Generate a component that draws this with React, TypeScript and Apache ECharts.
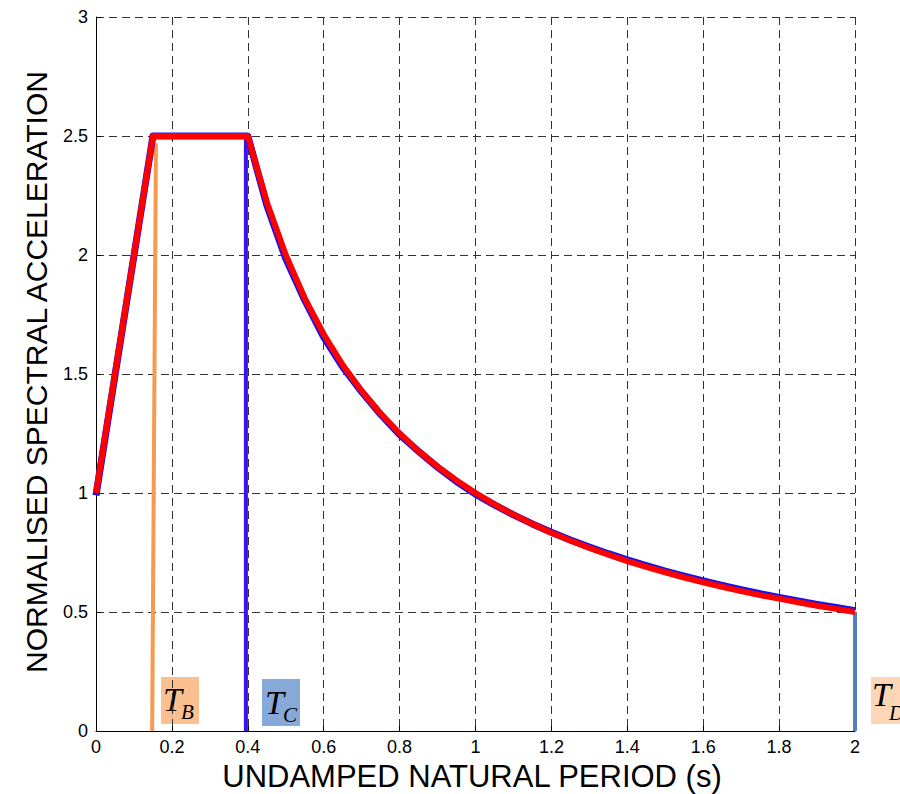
import React, { useEffect, useRef } from "react";
import * as echarts from "echarts";

// Periods (s)
const periods = [
  0, 0.15, 0.4, 0.45, 0.5, 0.55, 0.6, 0.65, 0.7, 0.75, 0.8, 0.85, 0.9, 0.95, 1.0,
  1.05, 1.1, 1.15, 1.2, 1.25, 1.3, 1.35, 1.4, 1.45, 1.5, 1.55, 1.6, 1.65, 1.7,
  1.75, 1.8, 1.85, 1.9, 1.95, 2.0,
];
// Design (red) normalised spectral acceleration
const redSa = [
  1.0, 2.5, 2.5, 2.222, 2.0, 1.818, 1.667, 1.538, 1.429, 1.333, 1.25, 1.176, 1.111,
  1.053, 1.0, 0.952, 0.909, 0.87, 0.833, 0.8, 0.769, 0.741, 0.714, 0.69, 0.667,
  0.645, 0.625, 0.606, 0.588, 0.571, 0.556, 0.541, 0.526, 0.513, 0.5,
];
// Computed (blue) normalised spectral acceleration
const blueSa = [
  0.99, 2.5, 2.5, 2.21, 1.985, 1.81, 1.655, 1.53, 1.425, 1.33, 1.245, 1.175, 1.108,
  1.048, 0.995, 0.95, 0.908, 0.87, 0.835, 0.803, 0.773, 0.745, 0.719, 0.695, 0.672,
  0.651, 0.631, 0.612, 0.594, 0.577, 0.561, 0.546, 0.532, 0.519, 0.505,
];
// Corner-period markers
const tbLine = [[0.148, 0], [0.158, 2.47]];
const tcLine = [[0.395, 0], [0.395, 2.5]];
const tdLine = [[2.0, 0], [2.0, 0.5]];

const xTitle = "UNDAMPED NATURAL PERIOD (s)";
const yTitle = "NORMALISED SPECTRAL ACCELERATION";

const SANS = "'Liberation Sans', Arial, sans-serif";
const SERIF = "'Liberation Serif', 'Times New Roman', serif";

function label(x: number, y: number, w: number, h: number, fill: string, sub: string, tx: number, ty: number, sx: number, sy: number) {
  return {
    type: "group",
    children: [
      { type: "rect", shape: { x, y, width: w, height: h }, style: { fill } },
      {
        type: "text",
        x: tx,
        y: ty,
        style: { text: "T", font: `italic 34px ${SERIF}`, fill: "#000", verticalAlign: "middle", align: "left" },
      },
      {
        type: "text",
        x: sx,
        y: sy,
        style: { text: sub, font: `italic 21px ${SERIF}`, fill: "#000", verticalAlign: "middle", align: "left" },
      },
    ],
  };
}

export default function App() {
  const ref = useRef<HTMLDivElement>(null);
  useEffect(() => {
    if (!ref.current) return;
    const chart = echarts.init(ref.current, undefined, { renderer: "svg" });
    const pair = (ys: number[]) => periods.map((p, i) => [p, ys[i]]);
    const split = { show: true, lineStyle: { color: "#333", type: [8, 5], width: 1 } };
    chart.setOption({
      animation: false,
      backgroundColor: "#fff",
      grid: { left: 96, right: 45, top: 17, bottom: 63 },
      xAxis: {
        type: "value",
        min: 0,
        max: 2,
        interval: 0.2,
        axisLine: { show: true, lineStyle: { color: "#000", width: 1 } },
        axisTick: { show: true, inside: true, length: 5, lineStyle: { color: "#000" } },
        axisLabel: { fontFamily: SANS, fontSize: 18, color: "#000", margin: 7 },
        splitLine: split,
      },
      yAxis: {
        type: "value",
        min: 0,
        max: 3,
        interval: 0.5,
        axisLine: { show: true, lineStyle: { color: "#000", width: 1 } },
        axisTick: { show: true, inside: true, length: 5, lineStyle: { color: "#000" } },
        axisLabel: { fontFamily: SANS, fontSize: 18, color: "#000", margin: 8 },
        splitLine: split,
      },
      series: [
        {
          type: "line",
          data: tbLine,
          symbol: "none",
          lineStyle: { color: "#f7994f", width: 4 },
          z: 2,
        },
        {
          type: "line",
          data: tcLine,
          symbol: "none",
          lineStyle: { color: "#3a12f2", width: 4 },
          z: 2,
        },
        {
          type: "line",
          data: tdLine,
          symbol: "none",
          clip: false,
          lineStyle: { color: "#4f81bd", width: 4 },
          z: 2,
        },
        {
          type: "line",
          data: pair(blueSa),
          symbol: "none",
          lineStyle: { color: "#1010f5", width: 7, join: "round" },
          z: 3,
        },
        {
          type: "line",
          data: pair(redSa),
          symbol: "none",
          lineStyle: { color: "#ff0000", width: 6, join: "round" },
          z: 4,
        },
      ],
      graphic: [
        {
          type: "text",
          x: 472,
          y: 776,
          style: { text: xTitle, font: `31px ${SANS}`, fill: "#000", align: "center", verticalAlign: "middle" },
        },
        {
          type: "text",
          x: 36,
          y: 372,
          rotation: Math.PI / 2,
          style: { text: yTitle, font: `30px ${SANS}`, fill: "#000", align: "center", verticalAlign: "middle" },
        },
        label(161, 677, 38, 47, "#fac08f", "B", 163, 699, 181, 712),
        label(262, 679, 38, 47, "#86a9d8", "C", 265, 702, 283, 715),
        label(871, 677, 40, 47, "#fcd6b6", "D", 872, 694, 889, 713),
      ],
    });
    return () => chart.dispose();
  }, []);
  return <div ref={ref} style={{ position: "fixed", left: 0, top: 0, width: 900, height: 794 }} />;
}
